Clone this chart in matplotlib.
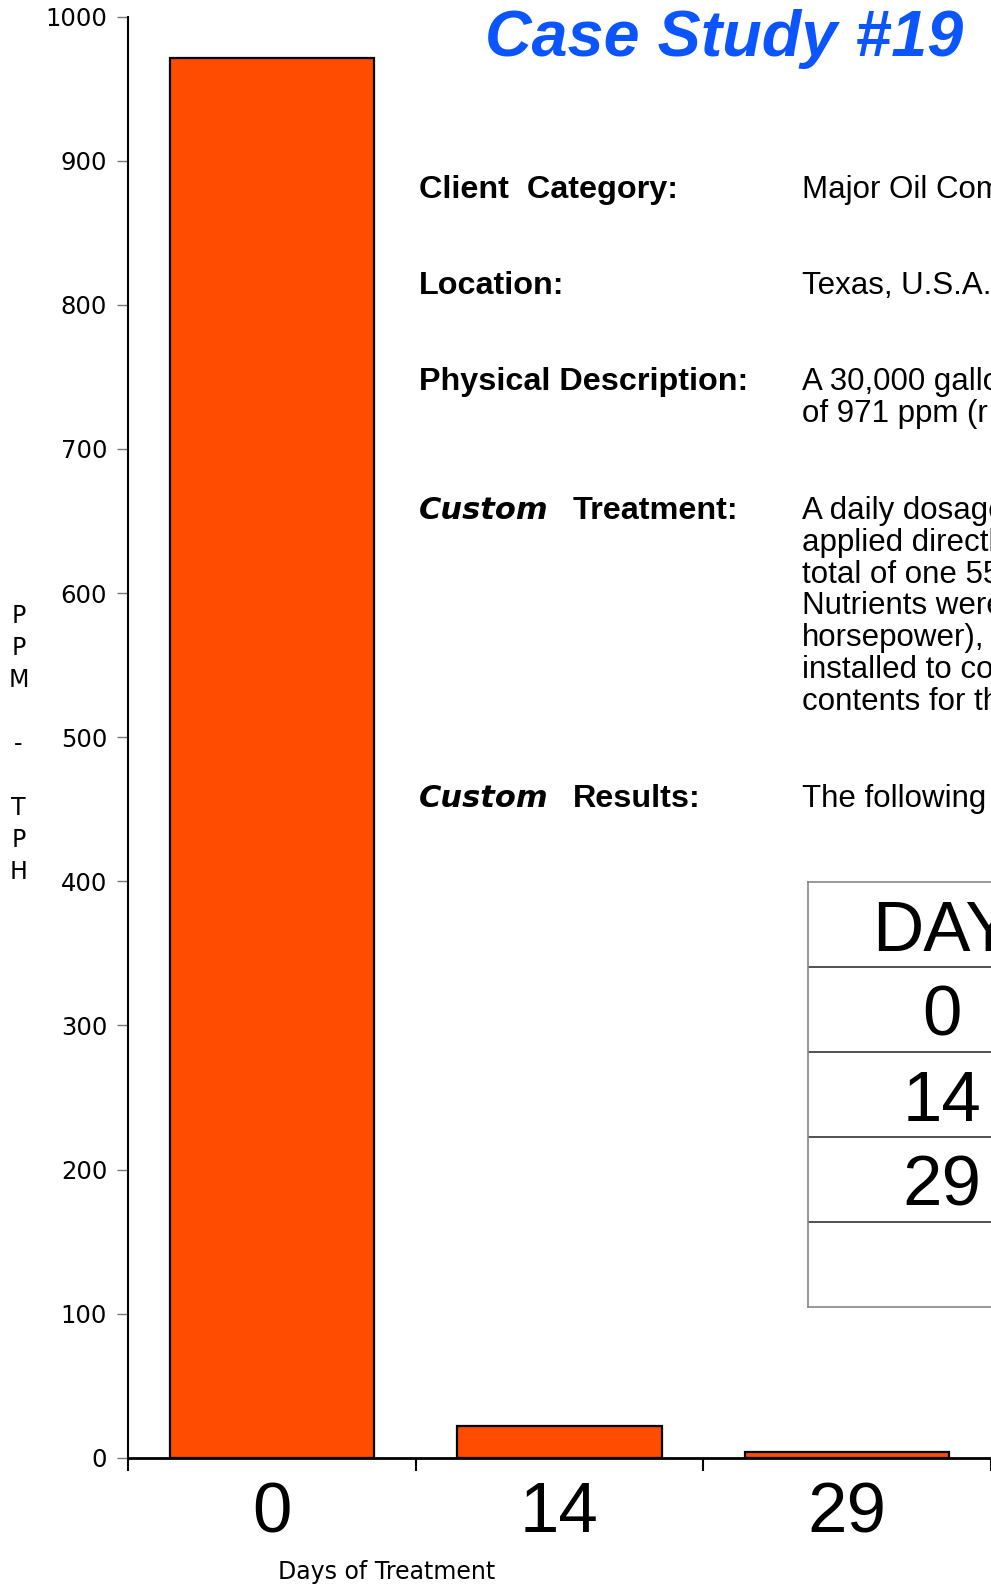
import matplotlib
matplotlib.use("Agg")
import matplotlib.pyplot as plt

W, H = 991, 1585

# chart data
days = ["0", "14", "29"]
tph_ppm = [971, 22, 4]
y_ticks = [0, 100, 200, 300, 400, 500, 600, 700, 800, 900, 1000]

title = "Case Study #19"
ylabel_lines = ["P", "P", "M", "", "-", "", "T", "P", "H"]
xlabel = "Days of Treatment"

# info block: italic prefix, bold label, value lines
info_prefix = ["", "", "", "Custom", "Custom"]
info_labels = ["Client  Category:", "Location:", "Physical Description:", "Treatment:", "Results:"]
info_values = [
    ["Major Oil Company"],
    ["Texas, U.S.A."],
    ["A 30,000 gallon", "of 971 ppm (r"],
    ["A daily dosage", "applied directly", "total of one 55", "Nutrients were",
     "horsepower),", "installed to con", "contents for the"],
    ["The following results"],
]
info_baselines = [198, 294, 390, 519, 807]

table_rows = ["DAY", "0", "14", "29", ""]

BAR = "#FF4C00"
BLUE = "#0A55FF"
SANS = "Liberation Sans"


def fx(x):
    return x / W


def fy(y):
    return 1 - y / H


fig = plt.figure(figsize=(W / 100, H / 100), dpi=100)

# main bar chart
x0, y_top, y_bot = 128, 16.7, 1457.7
cat_w = 291
ax = fig.add_axes([fx(x0), fy(y_bot), (W - x0) / W, (y_bot - y_top) / H])
ax.bar(range(len(days)), tph_ppm, width=0.71, color=BAR, edgecolor="black", linewidth=1.6, zorder=2)
ax.set_xlim(-0.5, -0.5 + (W - x0) / cat_w)
ax.set_ylim(0, 1000)
ax.set_yticks(y_ticks)
ax.tick_params(axis="y", direction="out", length=8, width=1, color="#777777",
               labelsize=17.5, pad=7, labelcolor="black")
ax.set_xticks([i - 0.5 for i in range(len(days) + 1)])
ax.set_xticklabels([])
ax.tick_params(axis="x", which="major", direction="out", length=9, width=1.5, color="black")
ax.set_xticks(range(len(days)), minor=True)
ax.set_xticklabels(days, minor=True, fontsize=51, family=SANS)
ax.tick_params(axis="x", which="minor", length=0, pad=17)
for s in ["top", "right"]:
    ax.spines[s].set_visible(False)
ax.spines["left"].set_linewidth(1.5)
ax.spines["bottom"].set_linewidth(2)

fig.text(fx(387), fy(1579), xlabel, ha="center", va="baseline", fontsize=17)
for i, ch in enumerate(ylabel_lines):
    if ch:
        fig.text(fx(18.5), fy(616 + 32 * i), ch, ha="center", va="center", fontsize=17)

# title and info block
fig.text(fx(485), fy(56), title, fontsize=46.5, fontweight="bold", fontstyle="italic",
         family=SANS, color=BLUE, va="baseline")

pitch = 31.8
for pre, lab, vals, yb in zip(info_prefix, info_labels, info_values, info_baselines):
    lx = 419
    if pre:
        fig.text(fx(lx), fy(yb), pre, fontsize=22, fontweight="bold", fontstyle="italic",
                 family="DejaVu Sans", va="baseline")
        lx = 573
    fig.text(fx(lx), fy(yb), lab, fontsize=23.3, fontweight="bold", family=SANS, va="baseline")
    for j, v in enumerate(vals):
        fig.text(fx(802), fy(yb + pitch * j), v, fontsize=22.5, family=SANS, va="baseline")

# results table (cut by the page edge)
t_left, t_top, t_bot, t_w = 808, 882, 1307, 268
tab = fig.add_axes([fx(t_left), fy(t_bot), t_w / W, (t_bot - t_top) / H])
tab.set_xlim(0, 1)
tab.set_ylim(len(table_rows), 0)
tab.patch.set_alpha(0)
tab.set_xticks([])
tab.set_yticks([])
tab.hlines(range(1, len(table_rows)), 0, 1, color="#333333", lw=1.2)
for s in ["top", "left", "bottom"]:
    tab.spines[s].set_color("#888888")
    tab.spines[s].set_linewidth(1.2)
tab.spines["right"].set_visible(False)
for i, r in enumerate(table_rows):
    tab.text(0.5, i + 0.5 + 0.306, r, ha="center", va="baseline", fontsize=51, family=SANS)

fig.savefig("out.png", dpi=100)
